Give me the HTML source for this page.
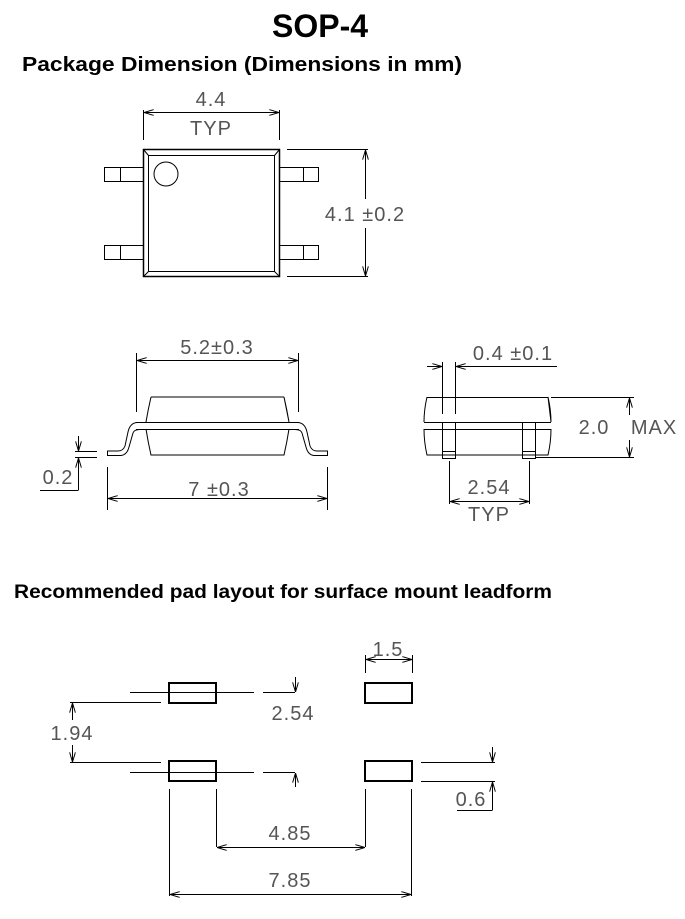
<!DOCTYPE html>
<html><head><meta charset="utf-8"><style>
html,body{margin:0;padding:0;background:#fff;width:685px;height:919px;overflow:hidden}
svg{display:block}
.t{font-family:"Liberation Sans",sans-serif;font-size:20px;fill:#555;letter-spacing:1px}
.h{font-family:"Liberation Sans",sans-serif;font-weight:bold;fill:#000}
</style></head><body>
<svg width="685" height="919" viewBox="0 0 685 919" xmlns="http://www.w3.org/2000/svg">
<defs>
<marker id="a" viewBox="0 0 10 6" refX="10" refY="3" markerWidth="10" markerHeight="6" orient="auto-start-reverse" markerUnits="userSpaceOnUse">
<path d="M0,0 L10,3 L0,6" fill="none" stroke="#000" stroke-width="1"/></marker>
</defs>
<text class="h" x="320" y="37" font-size="32" text-anchor="middle">SOP-4</text>
<text class="h" x="22" y="71" font-size="20" textLength="440" lengthAdjust="spacingAndGlyphs">Package Dimension (Dimensions in mm)</text>
<text class="h" x="14" y="598" font-size="19" textLength="538" lengthAdjust="spacingAndGlyphs">Recommended pad layout for surface mount leadform</text>

<g fill="none" stroke="#000" stroke-width="1">
<!-- top view -->
<rect x="143.5" y="149.5" width="136" height="127" stroke-width="1.5"/>
<rect x="148.5" y="155.5" width="126" height="116"/>
<line x1="143.5" y1="149.5" x2="148.5" y2="155.5"/><line x1="279.5" y1="149.5" x2="274.5" y2="155.5"/>
<line x1="143.5" y1="276.5" x2="148.5" y2="271.5"/><line x1="279.5" y1="276.5" x2="274.5" y2="271.5"/>
<circle cx="166" cy="174" r="12"/>
<rect x="104.5" y="167.5" width="39" height="14"/><line x1="120.5" y1="167.5" x2="120.5" y2="181.5"/>
<rect x="104.5" y="245.5" width="39" height="14"/><line x1="120.5" y1="245.5" x2="120.5" y2="259.5"/>
<rect x="279.5" y="167.5" width="39" height="14"/><line x1="303.5" y1="167.5" x2="303.5" y2="181.5"/>
<rect x="279.5" y="245.5" width="39" height="14"/><line x1="303.5" y1="245.5" x2="303.5" y2="259.5"/>
<line x1="143.5" y1="110" x2="143.5" y2="140"/><line x1="279.5" y1="110" x2="279.5" y2="140"/>
<line x1="144" y1="112.5" x2="279" y2="112.5" marker-start="url(#a)" marker-end="url(#a)"/>
<line x1="287" y1="149.5" x2="368" y2="149.5"/><line x1="287" y1="276.5" x2="368" y2="276.5"/>
<line x1="365.5" y1="150" x2="365.5" y2="199" marker-start="url(#a)"/>
<line x1="365.5" y1="228" x2="365.5" y2="276" marker-end="url(#a)"/>

<!-- side view -->
<path d="M151,397 Q148,410 146,422 M146,429 Q148,442 151,455 L284,455 Q287,442 289,429 M289,422 Q287,410 284,397 Z"/>
<line x1="151" y1="397" x2="284" y2="397"/>
<line x1="136" y1="422.5" x2="299" y2="422.5"/><line x1="136" y1="429.5" x2="299" y2="429.5"/>
<path d="M137,422.5 Q130,423 128,432 L125,446 Q123,451 118,451 L107.5,451 L107.5,455.5 L121,455.5 Q127,455 129,447 L133,433 Q134,429.5 140,429.5"/>
<path d="M298,422.5 Q305,423 307,432 L310,446 Q312,451 317,451 L327.5,451 L327.5,455.5 L314,455.5 Q308,455 306,447 L302,433 Q301,429.5 295,429.5"/>
<line x1="136.5" y1="353" x2="136.5" y2="412"/><line x1="298.5" y1="353" x2="298.5" y2="412"/>
<line x1="137" y1="360.5" x2="298" y2="360.5" marker-start="url(#a)" marker-end="url(#a)"/>
<line x1="107.5" y1="467" x2="107.5" y2="510"/><line x1="327.5" y1="467" x2="327.5" y2="510"/>
<line x1="108" y1="498.5" x2="327" y2="498.5" marker-start="url(#a)" marker-end="url(#a)"/>
<line x1="75" y1="451.5" x2="97" y2="451.5"/><line x1="75" y1="457.5" x2="97" y2="457.5"/>
<line x1="78.5" y1="436" x2="78.5" y2="451" marker-end="url(#a)"/>
<line x1="78.5" y1="490" x2="78.5" y2="458" marker-end="url(#a)"/>
<line x1="40" y1="490.5" x2="78.5" y2="490.5"/>

<!-- end view -->
<path d="M427,397 Q424,410 424,422 M424,429 Q424,442 427,455 L548,455 Q551,442 551,429 M551,422 Q551,410 548,397 Z"/>
<line x1="427" y1="397.5" x2="548" y2="397.5"/>
<line x1="424" y1="422.5" x2="551" y2="422.5"/><line x1="424" y1="429.5" x2="551" y2="429.5"/>
<rect x="442.5" y="422.5" width="13" height="36"/><line x1="442.5" y1="451.5" x2="455.5" y2="451.5"/>
<rect x="522.5" y="422.5" width="13" height="36"/><line x1="522.5" y1="451.5" x2="535.5" y2="451.5"/>
<line x1="442.5" y1="362" x2="442.5" y2="414"/><line x1="455.5" y1="362" x2="455.5" y2="414"/>
<line x1="427" y1="366.5" x2="442" y2="366.5" marker-end="url(#a)"/>
<line x1="557" y1="366.5" x2="456" y2="366.5" marker-end="url(#a)"/>
<line x1="551" y1="397.5" x2="634" y2="397.5"/><line x1="535" y1="457.5" x2="634" y2="457.5"/>
<line x1="629.5" y1="415" x2="629.5" y2="398" marker-end="url(#a)"/>
<line x1="629.5" y1="440" x2="629.5" y2="457" marker-end="url(#a)"/>
<line x1="449.5" y1="461" x2="449.5" y2="504"/><line x1="529.5" y1="461" x2="529.5" y2="504"/>
<line x1="450" y1="501.5" x2="529" y2="501.5" marker-start="url(#a)" marker-end="url(#a)"/>

<!-- pad layout -->
<g stroke-width="2">
<rect x="169" y="683" width="47" height="20"/><rect x="365" y="683" width="47" height="20"/>
<rect x="169" y="761" width="47" height="20"/><rect x="365" y="761" width="47" height="20"/>
</g>
<line x1="130" y1="692.5" x2="254" y2="692.5"/><line x1="263" y1="692.5" x2="295" y2="692.5"/>
<line x1="295.5" y1="677" x2="295.5" y2="692" marker-end="url(#a)"/>
<line x1="70" y1="702.5" x2="161" y2="702.5"/><line x1="70" y1="762.5" x2="161" y2="762.5"/>
<line x1="72.5" y1="720" x2="72.5" y2="703" marker-end="url(#a)"/>
<line x1="72.5" y1="745" x2="72.5" y2="762" marker-end="url(#a)"/>
<line x1="130" y1="772.5" x2="254" y2="772.5"/><line x1="263" y1="772.5" x2="295" y2="772.5"/>
<line x1="295.5" y1="787" x2="295.5" y2="773" marker-end="url(#a)"/>
<line x1="365.5" y1="655" x2="365.5" y2="673"/><line x1="412.5" y1="655" x2="412.5" y2="673"/>
<line x1="366" y1="659.5" x2="412" y2="659.5" marker-start="url(#a)" marker-end="url(#a)"/>
<line x1="421" y1="762.5" x2="495" y2="762.5"/><line x1="421" y1="781.5" x2="495" y2="781.5"/>
<line x1="492.5" y1="747" x2="492.5" y2="762" marker-end="url(#a)"/>
<line x1="492.5" y1="810" x2="492.5" y2="782" marker-end="url(#a)"/>
<line x1="457" y1="810.5" x2="492.5" y2="810.5"/>
<line x1="169.5" y1="789" x2="169.5" y2="896"/><line x1="216.5" y1="789" x2="216.5" y2="847"/>
<line x1="365.5" y1="789" x2="365.5" y2="847"/><line x1="411.5" y1="789" x2="411.5" y2="896"/>
<line x1="217" y1="847.5" x2="365" y2="847.5" marker-start="url(#a)" marker-end="url(#a)"/>
<line x1="170" y1="894.5" x2="411" y2="894.5" marker-start="url(#a)" marker-end="url(#a)"/>
</g>

<g class="t">
<text x="211" y="106" text-anchor="middle">4.4</text>
<text x="211" y="135" text-anchor="middle">TYP</text>
<text x="365" y="221" text-anchor="middle">4.1 ±0.2</text>
<text x="217" y="354" text-anchor="middle">5.2±0.3</text>
<text x="219" y="496" text-anchor="middle">7 ±0.3</text>
<text x="58" y="484" text-anchor="middle">0.2</text>
<text x="513" y="360" text-anchor="middle">0.4 ±0.1</text>
<text x="594" y="434" text-anchor="middle">2.0</text>
<text x="654" y="434" text-anchor="middle">MAX</text>
<text x="489" y="494" text-anchor="middle">2.54</text>
<text x="489" y="521" text-anchor="middle">TYP</text>
<text x="388" y="656" text-anchor="middle">1.5</text>
<text x="293" y="720" text-anchor="middle">2.54</text>
<text x="72" y="740" text-anchor="middle">1.94</text>
<text x="471" y="806" text-anchor="middle">0.6</text>
<text x="290" y="840" text-anchor="middle">4.85</text>
<text x="290" y="887" text-anchor="middle">7.85</text>
</g>
</svg>
</body></html>
